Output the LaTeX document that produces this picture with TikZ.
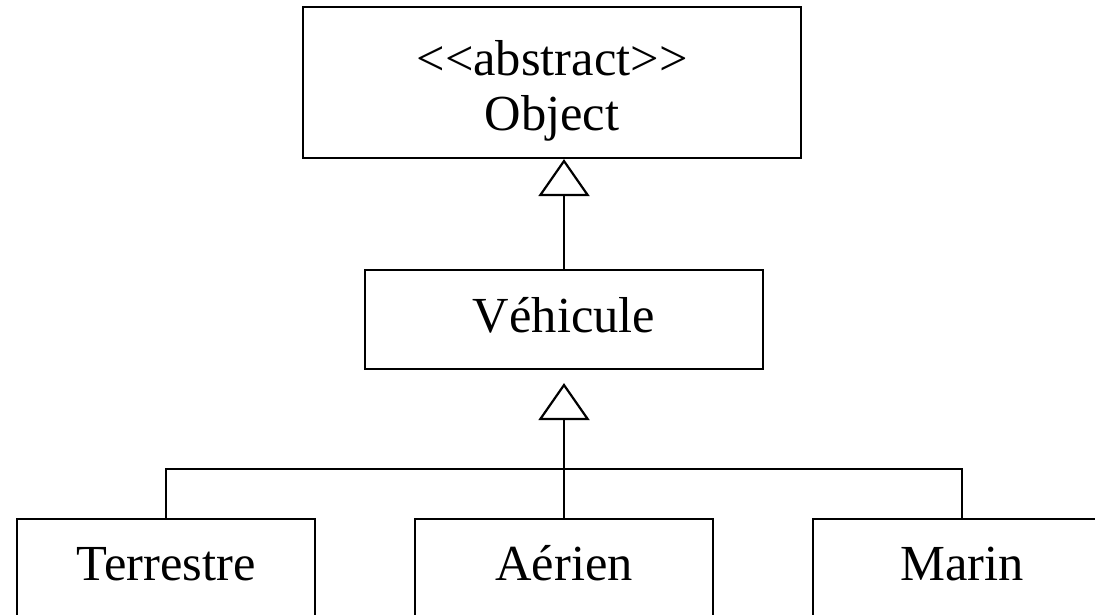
\documentclass[tikz,border=0pt]{standalone}
\usepackage{fontspec}
\setmainfont{Liberation Serif}
\usetikzlibrary{arrows.meta}

\begin{document}
\begin{tikzpicture}[x=1pt,y=-1pt,
    classbox/.style={draw=black,line width=2.2pt,inner xsep=0pt,inner ysep=0pt,font=\fontsize{50.5}{55}\selectfont},
    herit/.style={line width=2.2pt,-{Triangle[open,length=37pt,width=51pt]}},
    ligne/.style={line width=2.2pt}]
    \useasboundingbox (0,0) rectangle (1095,615);
    \clip (0,0) rectangle (1095,615);

    \node[classbox,minimum width=498pt,minimum height=151pt,text height=69pt,text depth=82pt] (Object) at (552,82.5)
        {\begin{tabular}[t]{@{}c@{}}<\kern0pt<abstract>\kern0pt>\\Object\end{tabular}};
    \node[classbox,minimum width=398pt,minimum height=99pt,text height=62pt,text depth=37pt] (Vehicule) at (564,319.5) {Véhicule};

    \node[classbox,minimum width=298pt,minimum height=121pt,text height=61pt,text depth=60pt] (Terrestre) at (166,579.5) {Terrestre};
    \node[classbox,minimum width=298pt,minimum height=121pt,text height=61pt,text depth=60pt] (Aerien) at (564,579.5) {Aérien};
    \node[classbox,minimum width=298pt,minimum height=121pt,text height=61pt,text depth=60pt] (Marin) at (962,579.5) {Marin};

    \draw[herit] (Vehicule.north) -- (Vehicule.north |- Object.south);

    \coordinate (bus) at (564,469);
    \draw[herit,shorten >=13pt] (Aerien.north) -- (Vehicule.south);
    \draw[ligne] (Terrestre.north) |- (bus) -| (Marin.north);

\end{tikzpicture}
\end{document}
